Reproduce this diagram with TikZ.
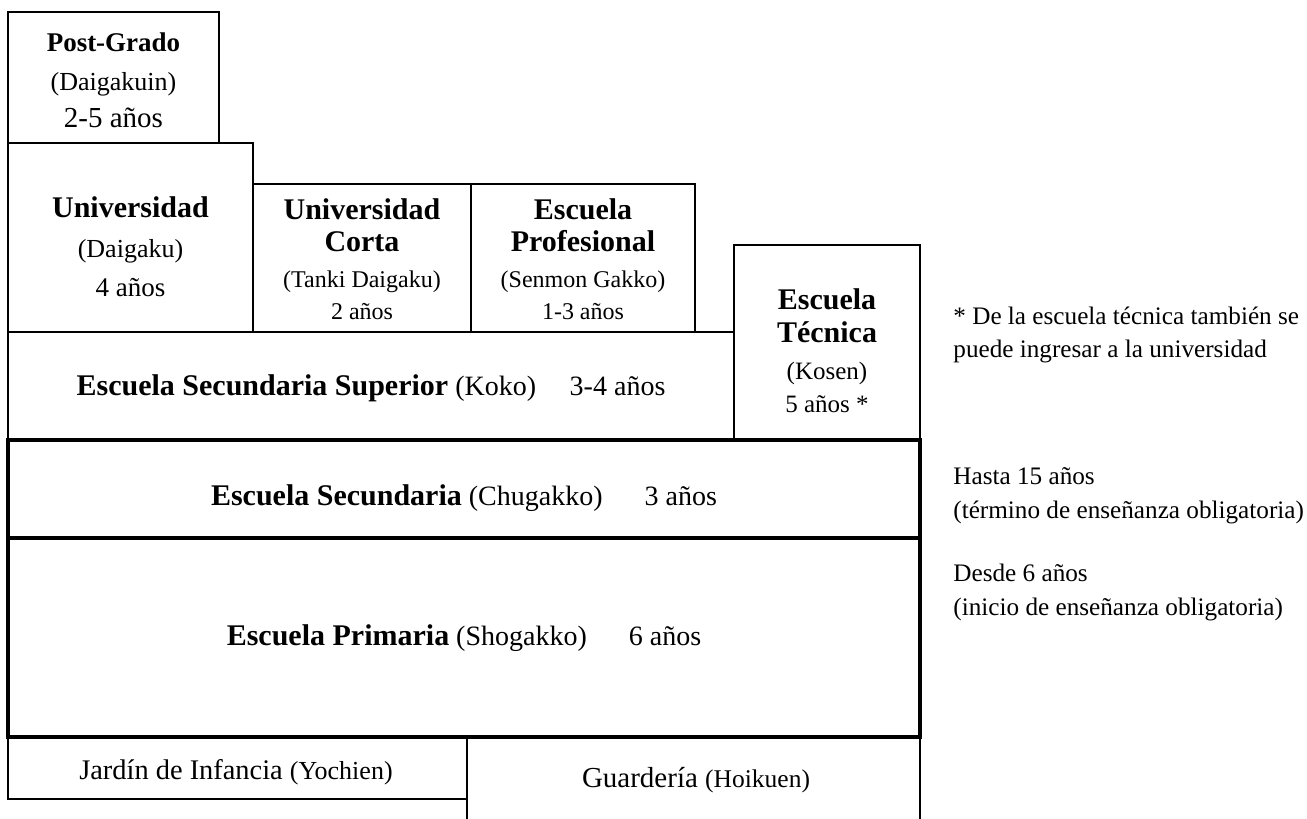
\documentclass[tikz,border=0pt]{standalone}
\usepackage{fontspec}
\setmainfont{Liberation Serif}
\newcommand{\levelname}[1]{{\fontsize{15}{15}\selectfont\bfseries #1}}

\begin{document}
\begin{tikzpicture}
[x=0.5pt, y=-0.5pt,
thinbox/.style={draw, line width=0.8pt},
thickbox/.style={draw, line width=2pt},
boxtext/.style={align=center, inner sep=0pt},
sidenote/.style={align=left, anchor=west, inner sep=0pt, font=\fontsize{12.6}{16.75}\selectfont},
]
\useasboundingbox (0,0) rectangle (1307,819);

% upper levels
\draw[thinbox] (8,12) rectangle (219,143);
\draw[thinbox] (8,143) rectangle (253,332);
\draw[thinbox] (253,184) rectangle (471,332);
\draw[thinbox] (471,184) rectangle (695,332);
\draw[thinbox] (734,245) rectangle (920,440);
\draw[thinbox] (8,332) rectangle (734,440);
% preschool
\draw[thinbox] (8,737) rectangle (467,799);
\draw[thinbox] (467,819) -- (467,737) -- (920,737) -- (920,819);
% compulsory education
\draw[thickbox] (8,440) rectangle (920,538);
\draw[thickbox] (8,538) rectangle (920,737);

\node[boxtext, font=\fontsize{13}{18.5}\selectfont] (posgrado) at (113.5,80)
  {{\fontsize{13.5}{18.5}\selectfont\bfseries Post-Grado}\hspace{5pt}\\[1pt] (Daigakuin)\\ {\fontsize{14.5}{18.5}\selectfont 2-5 años}};
\node[boxtext, font=\fontsize{13}{19.75}\selectfont] (univ) at (130.5,247)
  {\levelname{Universidad}\\ (Daigaku)\\ {\fontsize{13.5}{19.75}\selectfont 4 años}};
\node[boxtext, font=\fontsize{12}{16.25}\selectfont] (corta) at (362,259)
  {\levelname{Universidad}\\ \levelname{Corta}\\[1.5pt] (Tanki Daigaku)\\ 2 años};
\node[boxtext, font=\fontsize{12}{16.25}\selectfont] (profesional) at (583,259)
  {\levelname{Escuela}\\ \levelname{Profesional}\\[1.5pt] (Senmon Gakko)\\ 1-3 años};
\node[boxtext, font=\fontsize{12.5}{16.5}\selectfont] (tecnica) at (827,351)
  {\levelname{Escuela}\\ \levelname{Técnica}\\[2pt] (Kosen)\\ 5 años *};

\node[boxtext, font=\fontsize{14}{16}\selectfont] (superior) at (371,388)
  {\levelname{Escuela Secundaria Superior} (Koko)\hspace{1.2em}3-4 años};
\node[boxtext, font=\fontsize{14}{16}\selectfont] (secundaria) at (464,498)
  {\levelname{Escuela Secundaria} (Chugakko)\hspace{1.5em}3 años};
\node[boxtext, font=\fontsize{14}{16}\selectfont] (primaria) at (464,638)
  {\levelname{Escuela Primaria} (Shogakko)\hspace{1.5em}6 años};

\node[boxtext, font=\fontsize{14.2}{16}\selectfont] (jardin) at (236,772)
  {Jardín de Infancia {\fontsize{13}{14}\selectfont(Yochien)}};
\node[boxtext, font=\fontsize{14.5}{16}\selectfont] (guarderia) at (696,780)
  {Guardería {\fontsize{12.75}{14}\selectfont(Hoikuen)}};

% notes on the right
\node[sidenote] (notakosen) at (953,335)
  {* De la escuela técnica también se\\ puede ingresar a la universidad};
\node[sidenote] (notahasta) at (953,495.5)
  {Hasta 15 años\\ (término de enseñanza obligatoria)};
\node[sidenote] (notadesde) at (953,592.5)
  {Desde 6 años\\ (inicio de enseñanza obligatoria)};
\end{tikzpicture}
\end{document}
